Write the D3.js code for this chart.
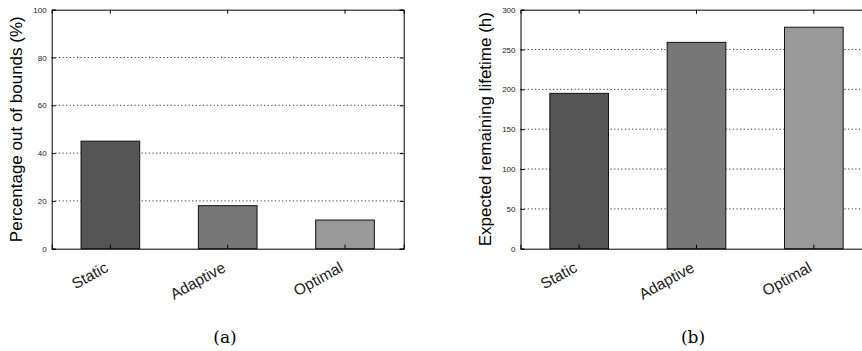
<!DOCTYPE html>
<html>

<head>
    <title>Static vs adaptive vs optimal</title>
    <script src="https://d3js.org/d3.v7.min.js"></script>
    <style>
        body { margin: 0; background: #fff; }
        text { font-family: "Liberation Sans", Arial, sans-serif; }
        .tick text { font-size: 8px; fill: #222; }
        .grid line { stroke: #333; stroke-width: 1px; stroke-dasharray: 1.2, 2.4; }
        .caption { font-family: "DejaVu Serif", "Liberation Serif", serif; font-size: 17px; }
    </style>
</head>

<body>
    <div id="chart"></div>
    <script>
        const categories = ["Static", "Adaptive", "Optimal"];
        const barColors = ["#555555", "#777777", "#999999"];

        const outOfBounds = [45, 18, 12];          // panel (a), %
        const outTicks = [0, 20, 40, 60, 80, 100];

        const lifetime = [195, 259, 278];          // panel (b), hours
        const lifeTicks = [0, 50, 100, 150, 200, 250, 300];

        const svg = d3.select("#chart")
            .append("svg")
            .attr("width", 862)
            .attr("height", 351);

        function panel(opts) {
            const left = opts.left, top = 9.7, width = 352, height = 239;
            const g = svg.append("g").attr("transform", `translate(${left},${top})`);

            const x = d3.scaleBand()
                .domain(categories)
                .range([0, width])
                .paddingInner(0.5)
                .paddingOuter(0.25);

            const y = d3.scaleLinear()
                .domain([0, opts.max])
                .range([height, 0]);

            // dotted grid
            g.append("g")
                .attr("class", "grid")
                .selectAll("line")
                .data(opts.ticks.slice(1, -1))
                .join("line")
                .attr("x1", 0)
                .attr("x2", width)
                .attr("y1", d => y(d))
                .attr("y2", d => y(d));

            // bars
            g.selectAll("rect.bar")
                .data(opts.values)
                .join("rect")
                .attr("class", "bar")
                .attr("x", (d, i) => x(categories[i]))
                .attr("y", d => y(d))
                .attr("width", x.bandwidth())
                .attr("height", d => height - y(d))
                .attr("fill", (d, i) => barColors[i])
                .attr("stroke", "#111")
                .attr("stroke-width", 1);

            // y axis (left), ticks inside
            g.append("g")
                .call(d3.axisLeft(y).tickValues(opts.ticks).tickSize(-4).tickPadding(5))
                .call(a => a.select(".domain").attr("stroke", "#000"));

            // right side ticks
            g.append("g")
                .attr("transform", `translate(${width},0)`)
                .call(d3.axisRight(y).tickValues(opts.ticks).tickSize(-4).tickFormat(""))
                .call(a => a.select(".domain").attr("stroke", "#000"));

            // top ticks
            g.append("g")
                .call(d3.axisTop(x).tickSize(-4).tickFormat(""))
                .call(a => a.select(".domain").attr("stroke", "#000"));

            // bottom axis with rotated labels
            const xa = g.append("g")
                .attr("transform", `translate(0,${height})`)
                .call(d3.axisBottom(x).tickSize(-4).tickPadding(0));
            xa.select(".domain").attr("stroke", "#000");
            xa.selectAll(".tick text")
                .style("font-size", "15.5px")
                .attr("text-anchor", "end")
                .attr("dy", 0)
                .attr("transform", "translate(-1,22) rotate(-29)");

            // y label
            g.append("text")
                .attr("transform", `translate(${opts.labelX},${height / 2}) rotate(-90)`)
                .attr("text-anchor", "middle")
                .style("font-size", "17px")
                .text(opts.label);

            // caption
            svg.append("text")
                .attr("class", "caption")
                .attr("x", opts.captionX)
                .attr("y", 343)
                .attr("text-anchor", "middle")
                .text(opts.caption);
        }

        panel({
            left: 51.7, max: 100, values: outOfBounds, ticks: outTicks,
            label: "Percentage out of bounds (%)", labelX: -30, caption: "(a)", captionX: 225
        });

        panel({
            left: 520.5, max: 300, values: lifetime, ticks: lifeTicks,
            label: "Expected remaining lifetime (h)", labelX: -30, caption: "(b)", captionX: 693
        });
    </script>

</body>

</html>
